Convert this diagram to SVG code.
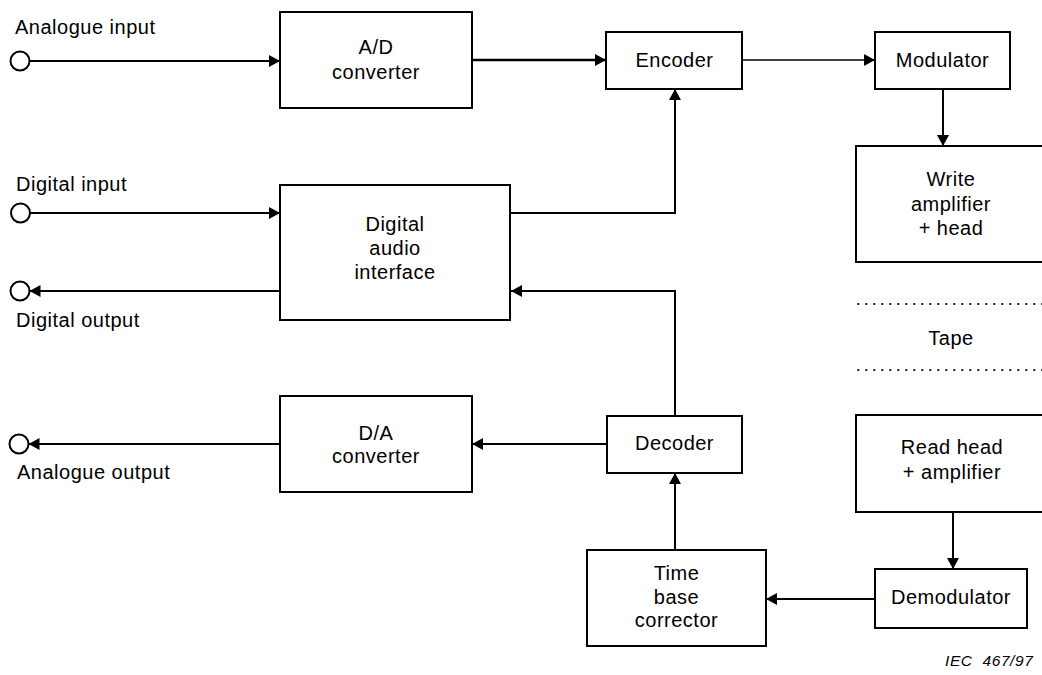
<svg xmlns="http://www.w3.org/2000/svg" width="1042" height="675" viewBox="0 0 1042 675">
<style>
.box{fill:#fff;stroke:#000;stroke-width:2}
.t{font-family:"Liberation Sans",Arial,Helvetica,sans-serif;font-size:20px;letter-spacing:0.5px;fill:#000}
.c{text-anchor:middle}
.w{fill:none;stroke:#000;stroke-width:2;marker-end:url(#ah)}
.term{fill:#fff;stroke:#000;stroke-width:2}
.dot{stroke:#000;stroke-width:1.6;stroke-dasharray:2.4 5.6;fill:none}
.iec{font-family:"Liberation Sans",Arial,Helvetica,sans-serif;font-size:15.5px;font-style:italic;letter-spacing:0.6px;fill:#000}
</style>
<defs>
<marker id="ah" viewBox="0 0 11 12" markerWidth="11" markerHeight="12" markerUnits="userSpaceOnUse" refX="11" refY="6" orient="auto">
<path d="M0,0 L11,6 L0,12 z" fill="#000"/>
</marker>
</defs>
<rect width="1042" height="675" fill="#fff"/>

<g id="connectors">
<path class="w" d="M29.5,61 H280"/>
<path class="w" style="stroke-width:2.7" d="M472,60 H606"/>
<path class="w" style="stroke-width:1.5" d="M742,60 H875"/>
<path class="w" d="M943,89 V146"/>
<path class="w" d="M510,213 H675 V89"/>
<path class="w" d="M30,213 H280"/>
<path class="w" d="M280,291 H29.5"/>
<path class="w" d="M675,416 V291 H511"/>
<path class="w" d="M607,444 H472"/>
<path class="w" d="M280,444 H28.5"/>
<path class="w" d="M675,550 V473"/>
<path class="w" d="M875,599 H766"/>
<path class="w" d="M953,512 V569"/>
</g>

<g id="terminals">
<circle class="term" cx="20" cy="61" r="9.5"/>
<circle class="term" cx="20.5" cy="213" r="9.5"/>
<circle class="term" cx="20" cy="291" r="9.5"/>
<circle class="term" cx="19" cy="444" r="9.5"/>
</g>

<g id="labels">
<text class="t" x="15" y="34">Analogue input</text>
<text class="t" x="16" y="191">Digital input</text>
<text class="t" x="16" y="327">Digital output</text>
<text class="t" x="17" y="479">Analogue output</text>
</g>

<g id="ad">
<rect class="box" x="280" y="12" width="192" height="96"/>
<text class="t c" x="376" y="54">A/D</text>
<text class="t c" x="376" y="79">converter</text>
</g>

<g id="encoder">
<rect class="box" x="606" y="32" width="136" height="57"/>
<text class="t c" x="674.5" y="67">Encoder</text>
</g>

<g id="modulator">
<rect class="box" x="875" y="32" width="135" height="57"/>
<text class="t c" x="942.5" y="67">Modulator</text>
</g>

<g id="write">
<rect class="box" x="856" y="146" width="200" height="116"/>
<text class="t c" x="951" y="186">Write</text>
<text class="t c" x="951" y="211">amplifier</text>
<text class="t c" x="951" y="235">+ head</text>
</g>

<g id="dai">
<rect class="box" x="280" y="185" width="230" height="135"/>
<text class="t c" x="395" y="231">Digital</text>
<text class="t c" x="395" y="255">audio</text>
<text class="t c" x="395" y="279">interface</text>
</g>

<g id="tape">
<path class="dot" d="M857,304 H1042"/>
<path class="dot" d="M857,370 H1042"/>
<text class="t c" x="951" y="345">Tape</text>
</g>

<g id="da">
<rect class="box" x="280" y="396" width="192" height="96"/>
<text class="t c" x="376" y="440">D/A</text>
<text class="t c" x="376" y="463">converter</text>
</g>

<g id="decoder">
<rect class="box" x="607" y="416" width="135" height="57"/>
<text class="t c" x="674.5" y="450">Decoder</text>
</g>

<g id="readhead">
<rect class="box" x="856" y="415" width="200" height="97"/>
<text class="t c" x="952" y="454">Read head</text>
<text class="t c" x="952" y="479">+ amplifier</text>
</g>

<g id="demodulator">
<rect class="box" x="875" y="569" width="152" height="59"/>
<text class="t c" x="951" y="604">Demodulator</text>
</g>

<g id="tbc">
<rect class="box" x="587" y="550" width="179" height="96"/>
<text class="t c" x="676.5" y="580">Time</text>
<text class="t c" x="676.5" y="604">base</text>
<text class="t c" x="676.5" y="627">corrector</text>
</g>

<text class="iec" x="945" y="666" xml:space="preserve">IEC  467/97</text>
</svg>
